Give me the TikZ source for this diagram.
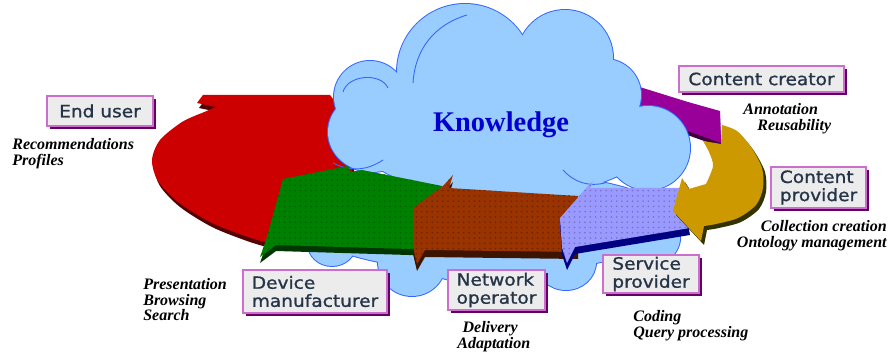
\documentclass[tikz,border=0pt]{standalone}
\usepackage[table]{xcolor}
\usepackage{tikz}
\usetikzlibrary{calc,patterns,shadows}
\usepackage{fontspec}
\newfontfamily\rolefont[FakeStretch=1.1,FakeBold=1.2]{DejaVu Sans}
\newfontfamily\workfont{Liberation Serif}

\definecolor{cloudblue}{RGB}{153,204,255}
\definecolor{cloudline}{RGB}{51,102,255}
\definecolor{userred}{RGB}{204,0,0}
\definecolor{usershade}{RGB}{85,0,0}
\definecolor{devgreen}{RGB}{0,128,0}
\definecolor{devshade}{RGB}{0,55,0}
\definecolor{netbrown}{RGB}{153,51,0}
\definecolor{netshade}{RGB}{60,20,0}
\definecolor{servlav}{RGB}{153,153,255}
\definecolor{servshade}{RGB}{0,0,128}
\definecolor{provgold}{RGB}{204,153,0}
\definecolor{provshade}{RGB}{51,51,0}
\definecolor{creapurple}{RGB}{153,0,153}
\definecolor{creashade}{RGB}{60,0,60}
\definecolor{boxfill}{RGB}{236,236,236}
\definecolor{boxline}{RGB}{204,110,204}
\definecolor{boxshade}{RGB}{102,0,102}
\definecolor{boxtext}{RGB}{38,52,72}
\definecolor{knowblue}{RGB}{0,0,204}

\newcommand\userarc{(203,95) -- (330,95) -- (352,124) -- (352,180) -- (300,246) -- plot[smooth] coordinates {(268,243) (245,236) (210,222) (178,202) (158,181) (152,160) (160,140) (182,122) (202,113)} -- (216,107) -- (197,103) -- cycle}
\newcommand\devarc{(283,179) -- (348,166) -- (350,172) -- (362,170) -- (442,186) -- (442,250) -- (276,245) -- (260,257) -- (266,240) -- cycle}
\newcommand\netarc{(453,175) -- (449,188) -- (578,196) -- (578,252) -- (425,250) -- (417,264) -- (413,247) -- (413,208) -- (443,186) -- cycle}
\newcommand\servarc{(593,181) -- (590,188) -- (683,188) -- (690,228) -- (575,247) -- (567,263) -- (562,248) -- (560,218) -- (588,186) -- cycle}
\newcommand\provarc{(722,125) -- plot[smooth] coordinates {(722,125) (737,131) (751,147) (762,168) (763,188) (756,205) (738,218) (716,224) (704,226)} -- (701,241) -- (673,211) -- (682,178) -- (689,189) -- plot[smooth] coordinates {(706,184) (713,166) (709,152) (703,141)} -- (721,144) -- cycle}
\newcommand\creaarc{(630,84) -- (688,102) -- (720,111) -- (721,143) -- (693,133) -- (636,112) -- cycle}
\newcommand\cloudparts{370/97/36/36, 465/72/68/68, 565/58/48/48, 605/95/36/36, 648/148/42/42, 372/132/44/40, 505/135/150/62, 490/222/185/50, 412/262/34/34, 332/244/24/22, 566/262/30/28, 642/238/38/30, 470/258/50/24}

\begin{document}
\begin{tikzpicture}[x=0.02cm,y=-0.02cm,
  role/.style={draw=boxline,line width=0.6pt,fill=boxfill,text=boxtext,
    font=\rolefont\fontsize{9.6}{10.3}\selectfont,align=left,inner sep=0pt,
    drop shadow={shadow xshift=1.7pt,shadow yshift=-1.7pt,fill=boxshade,opacity=1}},
  work/.style={font=\workfont\bfseries\itshape\fontsize{9.1}{8.9}\selectfont,
    align=left,inner sep=0pt,anchor=north west},
  texture/.style={postaction={pattern=dots,pattern color=#1}}]
\useasboundingbox (0,0) rectangle (889,354);

\fill[usershade,shift={(2,5)}] \userarc;
\fill[userred] \userarc;
\fill[creashade,shift={(0,4)}] \creaarc;
\fill[creapurple] \creaarc;

\foreach \cx/\cy/\rx/\ry in \cloudparts
  \draw[cloudline,line width=1.1pt] (\cx,\cy) ellipse[x radius=\rx,y radius=\ry];
\foreach \cx/\cy/\rx/\ry in \cloudparts
  \fill[cloudblue] (\cx,\cy) ellipse[x radius=\rx,y radius=\ry];
\draw[cloudline,line width=0.5pt] (343,92) to[bend left=70] (388,88);
\draw[cloudline,line width=0.5pt] (413,83) to[bend left=35] (467,15);
\draw[cloudline,line width=0.5pt] (333,163) to[bend right=30] (383,160);
\draw[cloudline,line width=0.5pt] (563,170) to[bend right=30] (605,183);

\fill[devshade,shift={(0,6)}] \devarc;
\fill[devgreen,texture=devgreen!75!black] \devarc;
\fill[netshade,shift={(0,7)}] \netarc;
\fill[netbrown,texture=netbrown!70!black] \netarc;
\fill[servshade,shift={(0,7)}] \servarc;
\fill[servlav,texture=servlav!75!black] \servarc;
\fill[provshade,shift={(3,4)}] \provarc;
\fill[provgold] \provarc;

\node[font=\workfont\bfseries\fontsize{16.2}{18}\selectfont,text=knowblue,anchor=base,inner sep=0pt] (knowledge) at (501,132) {Knowledge};

\node[role,minimum width=2.12cm,minimum height=0.60cm] (user) at (100,111) {End user};
\node[role,minimum width=3.30cm,minimum height=0.52cm] (creator) at (761.5,79) {Content creator};
\node[role,minimum width=1.90cm,minimum height=0.82cm] (provider) at (818.5,187.5) {Content\\provider};
\node[role,minimum width=2.88cm,minimum height=0.86cm] (device) at (315,291.5) {Device\\manufacturer};
\node[role,minimum width=1.94cm,minimum height=0.80cm] (network) at (496.5,290) {Network\\operator};
\node[role,minimum width=1.92cm,minimum height=0.76cm] (service) at (651,274) {Service\\provider};

\node[work] (userwork) at (12,138) {Recommendations\\Profiles};
\node[work] (creatorwork) at (743,103) {Annotation\\\hspace*{8pt}Reusability};
\node[work,anchor=north east,align=right] (providerwork) at (887,220) {Collection creation\\Ontology management};
\node[work] (devicework) at (143,278) {Presentation\\Browsing\\Search};
\node[work] (networkwork) at (457,321) {\hspace*{3pt}Delivery\\Adaptation};
\node[work] (servicework) at (633,310) {Coding\\Query processing};
\end{tikzpicture}
\end{document}
